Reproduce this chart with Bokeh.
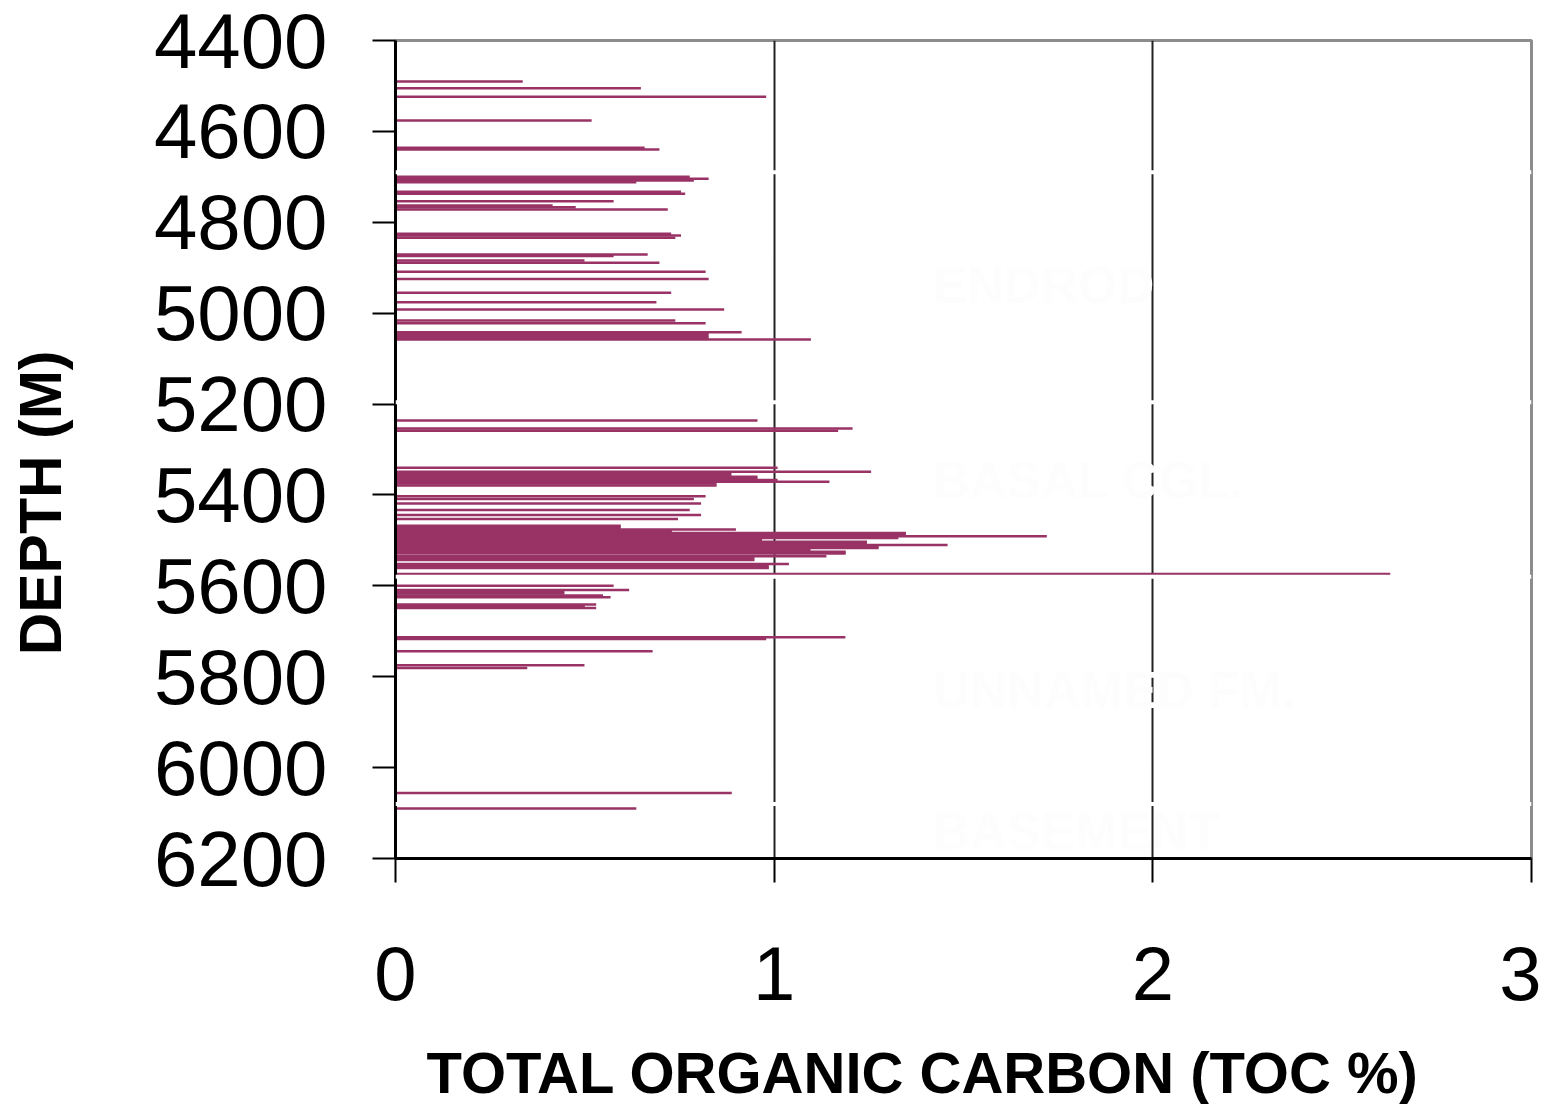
import math
from bokeh.plotting import figure
from bokeh.models import Range1d, FixedTicker, Span, Label, Title, ColumnDataSource
from bokeh.embed import file_html
from bokeh.resources import INLINE

# ---- data ----
depth_m = [4490, 4505, 4524, 4576, 4636, 4640,
           4700, 4704, 4708, 4712, 4733, 4737, 4754, 4763, 4767, 4772,
           4825, 4829, 4834, 4871, 4874, 4884, 4889, 4909, 4925, 4955,
           4976, 4992, 5016, 5022, 5042, 5046, 5050, 5054, 5058,
           5236, 5254, 5259, 5340, 5349, 5352, 5356, 5360, 5364, 5367,
           5371, 5375, 5379, 5403, 5409, 5419, 5433, 5444, 5453,
           5468, 5472, 5476, 5480, 5484, 5488, 5491, 5495, 5499, 5503,
           5507, 5510, 5513, 5517, 5521, 5525, 5529, 5535, 5539, 5543,
           5552, 5557, 5561, 5574, 5600, 5609, 5613, 5617, 5621, 5625,
           5641, 5645, 5649, 5713, 5717, 5744, 5775, 5781, 6056, 6090]
toc_pct = [0.336, 0.648, 0.979, 0.518, 0.658, 0.697,
           0.777, 0.827, 0.788, 0.636, 0.754, 0.765, 0.576, 0.415, 0.476, 0.719,
           0.728, 0.754, 0.739, 0.666, 0.576, 0.499, 0.697, 0.819, 0.827, 0.728,
           0.689, 0.868, 0.739, 0.819, 0.914, 0.827, 0.827, 0.827, 1.097,
           0.956, 1.207, 1.169, 1.009, 1.256, 0.887, 0.887, 0.956, 0.956, 1.009,
           1.146, 0.848, 0.848, 0.819, 0.788, 0.807, 0.777, 0.807, 0.746,
           0.595, 0.595, 0.899, 0.730, 1.348, 1.348, 1.720, 1.328, 0.968, 1.245,
           1.245, 1.458, 1.276, 1.276, 1.096, 1.189, 1.189, 1.138, 0.948, 0.948,
           1.039, 0.986, 0.986, 2.627, 0.576, 0.617, 0.446, 0.446, 0.548, 0.568,
           0.530, 0.500, 0.530, 1.188, 0.979, 0.679, 0.499, 0.348, 0.888, 0.636]

y_ticks = [4400, 4600, 4800, 5000, 5200, 5400, 5600, 5800, 6000, 6200]
x_ticks = [0, 1, 2, 3]
grid_ticks = [1, 2]

formation_names = ["ENDROD", "BASAL CGL.", "UNNAMED FM.", "BASEMENT"]
formation_label_depths = [4939, 5368, 5830, 6141]
formation_boundaries = [4690, 5196, 5580, 6080]

FONT = "Liberation Sans"
BAR = "#993366"

p = figure(frame_width=1136, frame_height=818,
           x_range=Range1d(0, 3), y_range=Range1d(6200, 4400),
           output_backend="svg", toolbar_location=None,
           min_border_left=395, min_border_top=40, min_border_right=10,
           min_border_bottom=236,
           background_fill_color="white", border_fill_color="white")

p.outline_line_color = "#8c8c8c"
p.outline_line_width = 3

src = ColumnDataSource(dict(depth=depth_m, toc=toc_pct))
p.hbar(y="depth", left=0, right="toc", height=5.5, source=src,
       fill_color=BAR, line_color=None)

# grid
p.ygrid.visible = False
p.xgrid.ticker = FixedTicker(ticks=grid_ticks)
p.xgrid.grid_line_color = "#222222"
p.xgrid.grid_line_width = 2

# axes
for ax in (p.xaxis[0], p.yaxis[0]):
    ax.axis_line_color = "black"
    ax.axis_line_width = 3
    ax.major_tick_line_color = "black"
    ax.major_tick_line_width = 2
    ax.major_tick_in = 0
    ax.minor_tick_line_color = None
    ax.major_label_text_font = FONT
    ax.major_label_text_color = "black"

p.xaxis.major_label_text_font_size = "76px"
p.yaxis.major_label_text_font_size = "78px"

p.xaxis.ticker = FixedTicker(ticks=x_ticks)
p.xaxis.major_tick_out = 24
p.xaxis.major_label_standoff = 64

p.yaxis.ticker = FixedTicker(ticks=y_ticks)
p.yaxis.major_tick_out = 23
p.yaxis.major_label_standoff = 45

# x title
tx = Title(text="TOTAL ORGANIC CARBON (TOC %)", align="left", offset=31,
           text_font=FONT, text_font_size="58px", text_font_style="bold",
           text_color="black", standoff=71)
p.add_layout(tx, "below")

# y title: rotated label kept in the left side panel (not clipped to frame)
p.add_layout(Label(x=-0.937, y=5753, text="DEPTH (M)", angle=math.pi / 2,
                   text_align="left", text_baseline="alphabetic",
                   text_font=FONT, text_font_size="59px",
                   text_font_style="bold", text_color="black"), "left")

# formation boundaries (white lines)
for d in formation_boundaries:
    p.add_layout(Span(location=d, dimension="width", line_color="white",
                      line_width=4, level="overlay"))

# formation names (near-white text)
for name, d in zip(formation_names, formation_label_depths):
    p.add_layout(Label(x=1.42, y=d, text=name, text_color="#fdfdfd",
                       text_font=FONT, text_font_size="51px",
                       text_font_style="bold", text_baseline="middle",
                       level="overlay"))

open("out.html", "w").write(file_html(p, INLINE))
